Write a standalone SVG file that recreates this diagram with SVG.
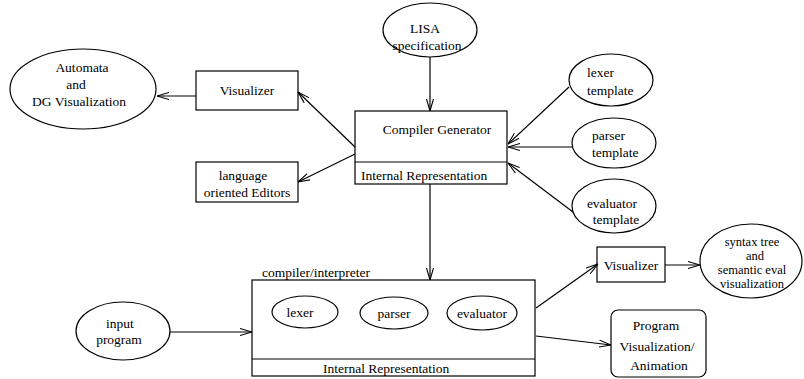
<svg xmlns="http://www.w3.org/2000/svg" width="804" height="379" viewBox="0 0 804 379">
<style>
text{font-family:"Liberation Serif","Times New Roman",serif;font-size:13.5px;fill:#000}
.m{text-anchor:middle}
.t{font-size:12.5px}
.s{fill:#fff;stroke:#000;stroke-width:1.2}
.c line{stroke:#000;stroke-width:1.2;marker-end:url(#a)}
</style>
<defs>
<marker id="a" viewBox="0 0 12 8" refX="12" refY="4" markerWidth="12" markerHeight="8" markerUnits="userSpaceOnUse" orient="auto">
<path d="M0,0.5 L12,4 L0,7.5" fill="none" stroke="#000" stroke-width="1.1"/>
</marker>
</defs>
<g id="automata"><ellipse class="s" cx="83" cy="89" rx="73" ry="40"/><text class="m" x="82" y="72">Automata</text><text class="m" x="76" y="89">and</text><text class="m" x="79" y="106">DG Visualization</text></g>
<g id="visualizer1"><rect class="s" x="196" y="71" width="102" height="39"/><text class="m" x="247" y="95">Visualizer</text></g>
<g id="editors"><rect class="s" x="196" y="162" width="102" height="40"/><text class="m" x="243" y="180">language</text><text class="m" x="247" y="197">oriented Editors</text></g>
<g id="lisa"><ellipse class="s" cx="430" cy="30" rx="47" ry="27"/><text class="m" x="425" y="33">LISA</text><text class="m" x="427" y="50">specification</text></g>
<g id="compgen"><rect class="s" x="355" y="111" width="152" height="73"/><line x1="355" y1="162" x2="507" y2="162" stroke="#000" stroke-width="1.2"/><text class="m" x="437" y="134">Compiler Generator</text><text x="361" y="180">Internal Representation</text></g>
<g id="lexert"><ellipse class="s" cx="611" cy="80" rx="42" ry="26"/><text x="587" y="77">lexer</text><text x="587" y="95">template</text></g>
<g id="parsert"><ellipse class="s" cx="614" cy="143" rx="42" ry="25"/><text x="592" y="140">parser</text><text x="592" y="157">template</text></g>
<g id="evalt"><ellipse class="s" cx="614" cy="206" rx="42" ry="27"/><text class="m" x="612" y="208">evaluator</text><text class="m" x="616" y="224">template</text></g>
<g id="compint"><rect class="s" x="252" y="280" width="283" height="96"/><line x1="252" y1="359" x2="535" y2="359" stroke="#000" stroke-width="1.2"/><text x="262" y="277">compiler/interpreter</text><text x="323" y="373">Internal Representation</text>
<g id="lexer"><ellipse class="s" cx="305" cy="312" rx="33" ry="16"/><text class="m" x="300" y="317">lexer</text></g>
<g id="parser"><ellipse class="s" cx="394" cy="313" rx="34" ry="16"/><text class="m" x="394" y="318">parser</text></g>
<g id="evaluator"><ellipse class="s" cx="482" cy="313" rx="35" ry="17"/><text class="m" x="482" y="318">evaluator</text></g>
</g>
<g id="input"><ellipse class="s" cx="123" cy="331" rx="47" ry="29"/><text class="m" x="120" y="328">input</text><text class="m" x="119" y="344">program</text></g>
<g id="visualizer2"><rect class="s" x="597" y="247" width="68" height="35"/><text class="m" x="631" y="270">Visualizer</text></g>
<g id="syntax"><ellipse class="s" cx="751" cy="261" rx="51" ry="37"/><text class="m t" x="752" y="246">syntax tree</text><text class="m t" x="755" y="259.5">and</text><text class="m t" x="752" y="274">semantic eval</text><text class="m t" x="752" y="288">visualization</text></g>
<g id="progvis"><rect class="s" x="611" y="310" width="95" height="67" rx="7"/><text class="m" x="656" y="330">Program</text><text class="m" x="657" y="351">Visualization/</text><text class="m" x="659" y="370">Animation</text></g>
<g class="c" id="connectors">
<line x1="196" y1="96" x2="157" y2="96"/>
<line x1="355" y1="147" x2="298" y2="92"/>
<line x1="355" y1="154" x2="298" y2="182"/>
<line x1="430" y1="57" x2="430" y2="111"/>
<line x1="569" y1="87" x2="508" y2="144"/>
<line x1="572" y1="147" x2="508" y2="147"/>
<line x1="573" y1="212" x2="508" y2="163"/>
<line x1="430" y1="184" x2="430" y2="280"/>
<line x1="170" y1="332" x2="252" y2="332"/>
<line x1="536" y1="308" x2="598" y2="264"/>
<line x1="665" y1="265" x2="700" y2="265"/>
<line x1="536" y1="336" x2="611" y2="345"/>
</g>
</svg>
